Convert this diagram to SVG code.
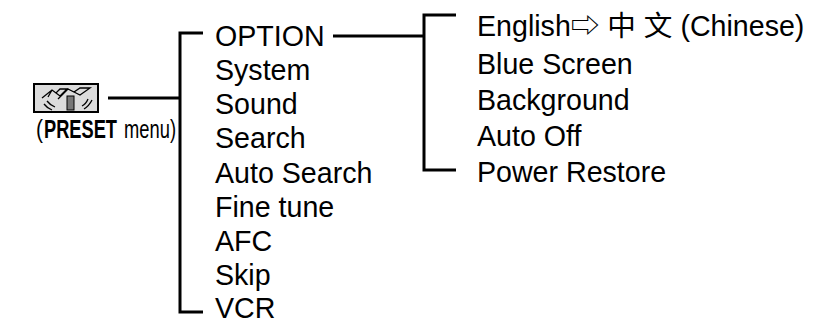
<svg xmlns="http://www.w3.org/2000/svg" width="815" height="322" viewBox="0 0 815 322">
<style>
.t{font-family:"Liberation Sans",Arial,"Noto Sans CJK SC",sans-serif;font-size:28.6px;fill:#000}
.p{font-family:"Liberation Sans",Arial,sans-serif;font-size:25px;fill:#000}
.ln{stroke:#000;stroke-width:3;fill:none}
</style>
<rect width="815" height="322" fill="#fff"/>
<g id="preset">
<rect x="34" y="84" width="64" height="28" fill="#dcdcdc" stroke="#000" stroke-width="2"/>
<g fill="none" stroke="#000" stroke-width="1.3">
<path d="M42 98 L52 90 L56 93 L60 89 L67 89 L60 96 L56 93 M52 90 L48 97 Z"/>
<path d="M58 99 L68 89 L74 92 L80 88 L90 88 L80 95 L74 92"/>
<path d="M44 104 Q47 108 52 110 M47 101 Q50 105 55 107"/>
<path d="M92 100 Q89 106 84 109 M88 99 Q86 104 82 106"/>
</g>
<rect x="67" y="96" width="7" height="14" fill="#777" stroke="#000" stroke-width="1"/>
<text class="p" x="36" y="138" textLength="7" lengthAdjust="spacingAndGlyphs">(</text>
<text class="p" x="44" y="138" font-weight="bold" textLength="73" lengthAdjust="spacingAndGlyphs">PRESET</text>
<text class="p" x="124" y="138" textLength="52" lengthAdjust="spacingAndGlyphs">menu)</text>
</g>
<g id="menu1">
<text class="t" x="215" y="46">OPTION</text>
<text class="t" x="215" y="80.2">System</text>
<text class="t" x="215" y="114.3">Sound</text>
<text class="t" x="215" y="148.4">Search</text>
<text class="t" x="215" y="182.5">Auto Search</text>
<text class="t" x="215" y="216.6">Fine tune</text>
<text class="t" x="215" y="250.8">AFC</text>
<text class="t" x="215" y="284.9">Skip</text>
<text class="t" x="215" y="318">VCR</text>
</g>
<g id="menu2">
<text class="t" x="477" y="36">English⇨ 中 文 (Chinese)</text>
<text class="t" x="477" y="74">Blue Screen</text>
<text class="t" x="477" y="110">Background</text>
<text class="t" x="477" y="146">Auto Off</text>
<text class="t" x="477" y="182">Power Restore</text>
</g>
<g id="connectors" class="ln">
<path d="M108 98 H180"/>
<path d="M203 33 H180 V312 H203"/>
<path d="M333 36 H424"/>
<path d="M456 15 H424 V170 H456"/>
</g>
</svg>
